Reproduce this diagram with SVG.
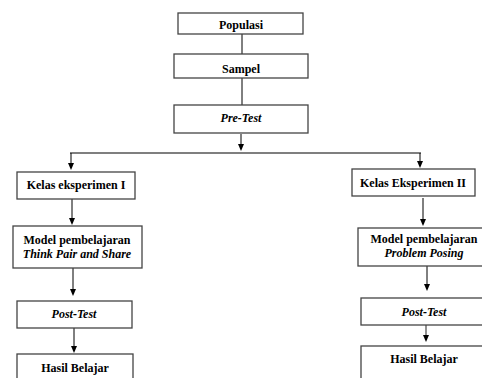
<svg xmlns="http://www.w3.org/2000/svg" width="482" height="378" viewBox="0 0 482 378">
<style>
.box{fill:#fff;stroke:#444;stroke-width:1.3}
text{font-family:'Liberation Serif','Times New Roman','DejaVu Serif',serif;font-size:12px;font-weight:bold;fill:#000;text-anchor:middle}
.i{font-style:italic}
.c{stroke:#000;stroke-width:1;fill:none}
.g{stroke:#555;stroke-width:1.3;fill:none}
</style>
<rect width="482" height="378" fill="#fff"/>
<g id="connectors">
<line class="c" x1="242" y1="34" x2="242" y2="54"/>
<line class="c" x1="242" y1="78" x2="242" y2="105"/>
<line class="c" x1="241" y1="134" x2="241" y2="146"/>
<path d="M238,144 L244,144 L241,151 Z"/>
<line class="g" x1="70" y1="153" x2="421" y2="153"/>
<line class="c" x1="71" y1="153" x2="71" y2="164"/>
<path d="M68,163 L74,163 L71,170 Z"/>
<line class="c" x1="420" y1="153" x2="420" y2="162"/>
<path d="M417,161 L423,161 L420,168 Z"/>
<line class="c" x1="72" y1="199" x2="72" y2="219"/>
<path d="M69,218 L75,218 L72,225 Z"/>
<line class="c" x1="73" y1="268" x2="73" y2="290"/>
<path d="M70,289 L76,289 L73,296 Z"/>
<line class="c" x1="74" y1="328" x2="74" y2="347"/>
<path d="M71,346 L77,346 L74,353 Z"/>
<line class="c" x1="423" y1="198" x2="423" y2="220"/>
<path d="M420,219 L426,219 L423,226 Z"/>
<line class="c" x1="427" y1="266" x2="427" y2="285"/>
<path d="M424,284 L430,284 L427,291 Z"/>
<line class="g" x1="426" y1="325" x2="426" y2="336"/>
<path d="M423,335 L429,335 L426,342 Z"/>
</g>
<g id="populasi"><rect class="box" x="178" y="13" width="125" height="21"/><text x="241" y="29">Populasi</text></g>
<g id="sampel"><rect class="box" x="174" y="54" width="134" height="24"/><text x="241" y="73">Sampel</text></g>
<g id="pretest"><rect class="box" x="174" y="105" width="134" height="28"/><text class="i" x="241" y="122">Pre-Test</text></g>
<g id="kelas1"><rect class="box" x="17" y="172" width="118" height="27"/><text x="76" y="189">Kelas eksperimen I</text></g>
<g id="model1"><rect class="box" x="13" y="226" width="129" height="42"/><text x="77" y="244">Model pembelajaran</text><text class="i" x="77" y="258">Think Pair and Share</text></g>
<g id="post1"><rect class="box" x="17" y="301" width="115" height="27"/><text class="i" x="74" y="318">Post-Test</text></g>
<g id="hasil1"><rect class="box" x="17" y="354" width="116" height="30"/><text x="75" y="372">Hasil Belajar</text></g>
<g id="kelas2"><rect class="box" x="352" y="169" width="123" height="27"/><text x="413" y="187">Kelas Eksperimen II</text></g>
<g id="model2"><rect class="box" x="358" y="228" width="130" height="38"/><text x="424" y="243">Model pembelajaran</text><text class="i" x="424" y="257">Problem Posing</text></g>
<g id="post2"><rect class="box" x="361" y="298" width="130" height="27"/><text class="i" x="424" y="316">Post-Test</text></g>
<g id="hasil2"><rect class="box" x="361" y="346" width="130" height="40"/><text x="424" y="363">Hasil Belajar</text></g>
</svg>
